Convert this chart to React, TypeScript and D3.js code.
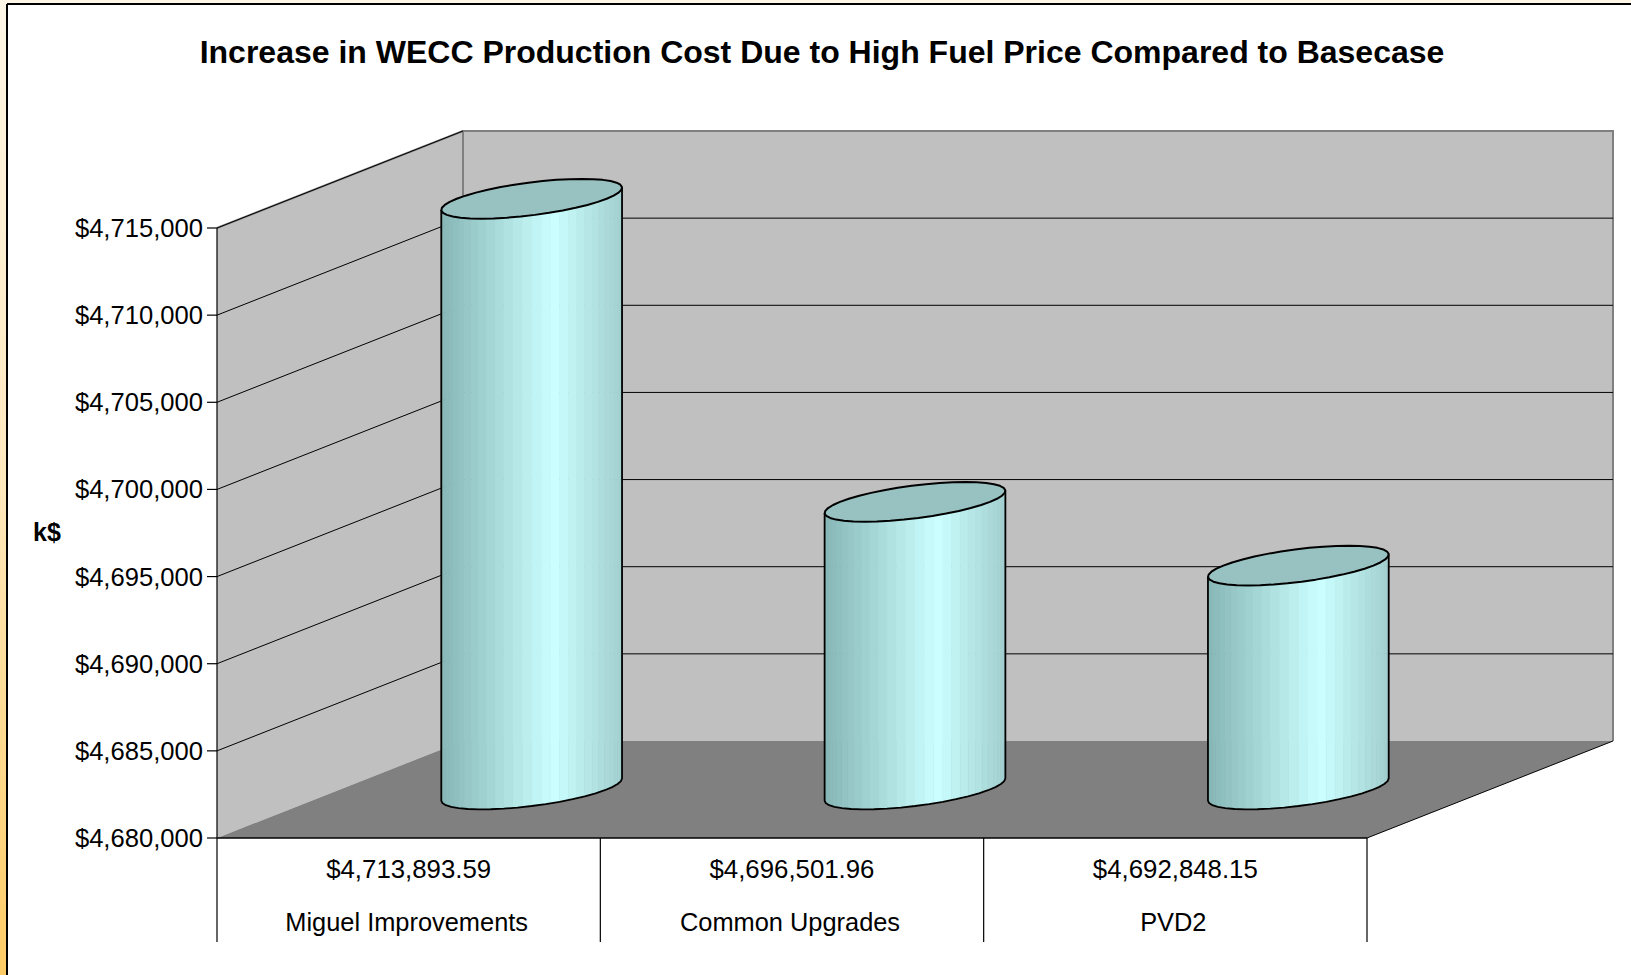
import React from 'react';
import * as d3 from 'd3';

const title = 'Increase in WECC Production Cost Due to High Fuel Price Compared to Basecase';
const categories = ['Miguel Improvements', 'Common Upgrades', 'PVD2'];
const values = [4713893.59, 4696501.96, 4692848.15];
const yTicks = [4680000, 4685000, 4690000, 4695000, 4700000, 4705000, 4710000, 4715000];
const yLabel = 'k$';

const width = 1631;
const height = 975;
const font = '"Liberation Sans", Arial, sans-serif';

// front plane and the oblique depth shift
const frontLeft = 217;
const frontRight = 1367;
const DX = 246;
const DY = -97;
const tableBottom = 942;

const x = d3.scaleBand<string>().domain(categories).range([frontLeft, frontRight]);
const y = d3.scaleLinear().domain([4680000, 4715000]).range([838, 228]);

const fmtTick = d3.format('$,');
const fmtVal = d3.format('$,.2f');

const shade = d3.scaleLinear<string>()
  .domain([0, 0.62, 1])
  .range(['#86b6b6', '#ccffff', '#a2cfcf']);

const line = d3.line<[number, number]>();

const proj = (xf: number, yf: number, z: number): [number, number] => [xf + z * DX, yf + z * DY];

const zc = 0.5;
const rz = 0.205;
const rx = 75;

function ellipsePt(cx: number, yv: number, t: number): [number, number] {
  const z = zc + rz * Math.sin(t);
  return proj(cx + rx * Math.cos(t), y(yv), z);
}

function Cylinder({ cat, value }: { cat: string; value: number }) {
  const cx = (x(cat) as number) + x.bandwidth() / 2;
  const base = y.domain()[0];
  const t0 = Math.atan2(rz * DX, rx);
  const tl = t0 + Math.PI;
  const tr = t0 + 2 * Math.PI;
  const N = 30;
  const left = ellipsePt(cx, value, tl)[0];
  const right = ellipsePt(cx, value, tr)[0];
  const facets = d3.range(N).map(i => {
    const a = tl + ((tr - tl) * i) / N;
    const b = tl + ((tr - tl) * (i + 1)) / N;
    const pts: [number, number][] = [
      ellipsePt(cx, value, a),
      ellipsePt(cx, value, b),
      ellipsePt(cx, base, b),
      ellipsePt(cx, base, a),
    ];
    const f = ((pts[0][0] + pts[1][0]) / 2 - left) / (right - left);
    return { pts, color: shade(f) };
  });
  // coarse polygon, like the original's slightly jagged rims
  const topPts = d3.range(0, 41).map(i => ellipsePt(cx, value, (i / 40) * 2 * Math.PI));
  const botArc = d3.range(0, 21).map(i => ellipsePt(cx, base, tl + ((tr - tl) * i) / 20));
  const outline: [number, number][] = [
    ellipsePt(cx, value, tl),
    ...botArc,
    ellipsePt(cx, value, tr),
  ];
  return (
    <g>
      {facets.map((fc, i) => (
        <path key={i} d={line(fc.pts) + 'Z'} fill={fc.color} stroke={fc.color} strokeWidth={0.6} />
      ))}
      <path d={line(outline) as string} fill="none" stroke="#000" strokeWidth={1.8} strokeLinejoin="round" />
      <path d={line(topPts) + 'Z'} fill="#98c2c2" stroke="#000" strokeWidth={2} strokeLinejoin="round" />
    </g>
  );
}

export default function App() {
  const yTop = y(yTicks[yTicks.length - 1]);
  const yBot = y(yTicks[0]);
  const backTop = proj(frontLeft, yTop, 1);
  const backBot = proj(frontLeft, yBot, 1);
  const backRight = proj(frontRight, yBot, 1)[0];

  const leftWall: [number, number][] = [[frontLeft, yTop], backTop, backBot, [frontLeft, yBot]];
  const backWall: [number, number][] = [backTop, [backRight, backTop[1]], [backRight, backBot[1]], backBot];
  const floor: [number, number][] = [[frontLeft, yBot], [frontRight, yBot], proj(frontRight, yBot, 1), backBot];

  return (
    <svg width={width} height={height} style={{ position: 'absolute', left: 0, top: 0 }} fontFamily={font}>
      <defs>
        <linearGradient id="bg" x1="0" y1="0" x2="0" y2="1">
          <stop offset="0" stopColor="#fef6e6" />
          <stop offset="0.5" stopColor="#fee8bd" />
          <stop offset="1" stopColor="#ffcc66" />
        </linearGradient>
      </defs>
      <rect width={width} height={height} fill="url(#bg)" />
      <rect x={7} y={4} width={width} height={height} fill="#fff" />
      <line x1={7} y1={4} x2={width} y2={4} stroke="#000" strokeWidth={2} />
      <line x1={7} y1={4} x2={7} y2={height} stroke="#000" strokeWidth={2} />

      <text x={822} y={63} textAnchor="middle" fontSize={32} fontWeight="bold">{title}</text>

      {/* walls and floor */}
      <path d={line(leftWall) + 'Z'} fill="#c0c0c0" />
      <path d={line(backWall) + 'Z'} fill="#c0c0c0" />
      <path d={line(floor) + 'Z'} fill="#808080" />
      <path d={line([backBot, backTop, [backRight, backTop[1]], [backRight, backBot[1]]]) as string} fill="none" stroke="#808080" strokeWidth={2} />
      <path d={line([[frontLeft, yTop], backTop]) as string} fill="none" stroke="#808080" strokeWidth={2} />

      {/* gridlines */}
      {yTicks.slice(1).map(t => {
        const p0: [number, number] = [frontLeft, y(t)];
        const p1 = proj(frontLeft, y(t), 1);
        return (
          <g key={t}>
            <path d={line([p0, p1]) as string} stroke="#000" strokeWidth={1} fill="none" />
            {t < yTicks[yTicks.length - 1] && (
              <path d={line([p1, [backRight, p1[1]]]) as string} stroke="#000" strokeWidth={1} fill="none" />
            )}
          </g>
        );
      })}
      <path d={line([[frontRight, yBot], proj(frontRight, yBot, 1)]) as string} stroke="#000" strokeWidth={1} fill="none" />

      {categories.map((c, i) => <Cylinder key={c} cat={c} value={values[i]} />)}

      {/* axis */}
      <line x1={frontLeft} y1={yTop} x2={frontLeft} y2={tableBottom} stroke="#000" strokeWidth={1.2} />
      {yTicks.map(t => (
        <g key={t} transform={`translate(0,${y(t)})`}>
          <line x1={frontLeft - 10} x2={frontLeft} stroke="#000" strokeWidth={1.2} />
          <text x={frontLeft - 14} y={9} textAnchor="end" fontSize={25.6}>{fmtTick(t)}</text>
        </g>
      ))}
      <text x={47} y={541} textAnchor="middle" fontSize={25} fontWeight="bold">{yLabel}</text>

      {/* data table */}
      <line x1={frontLeft} y1={yBot} x2={frontRight} y2={yBot} stroke="#000" strokeWidth={1.5} />
      {categories.map((c, i) => {
        const x0 = x(c) as number;
        const xm = x0 + x.bandwidth() / 2;
        return (
          <g key={c}>
            <line x1={x0 + x.bandwidth()} y1={yBot} x2={x0 + x.bandwidth()} y2={tableBottom} stroke="#000" strokeWidth={1.2} />
            <text x={xm} y={878} textAnchor="middle" fontSize={25.8}>{fmtVal(values[i])}</text>
            <text x={xm - 2} y={931} textAnchor="middle" fontSize={25.4}>{c}</text>
          </g>
        );
      })}
    </svg>
  );
}
